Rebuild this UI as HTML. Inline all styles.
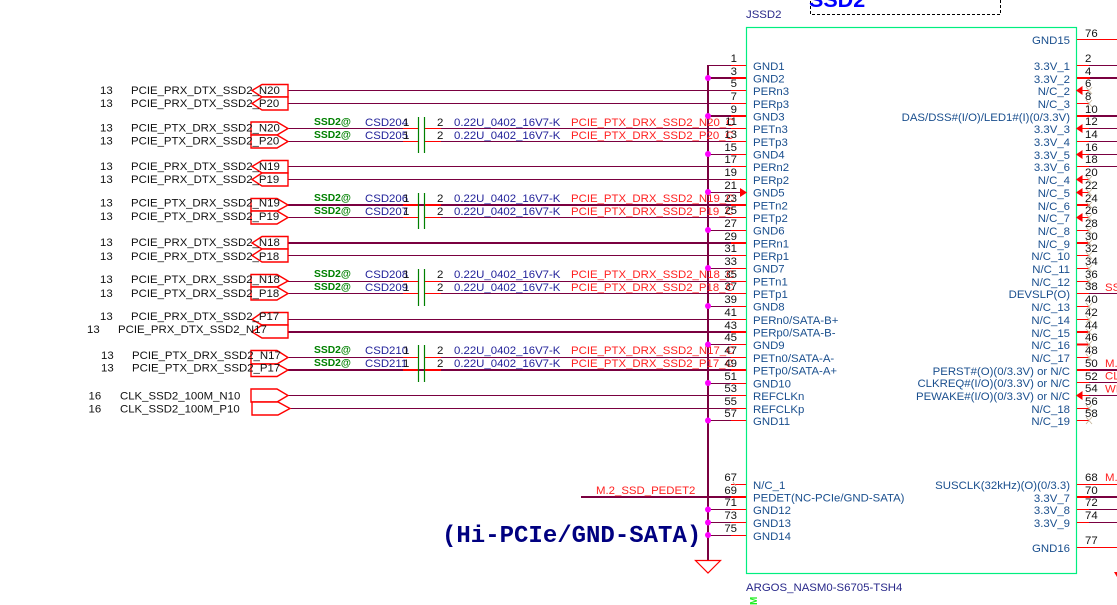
<!DOCTYPE html>
<html><head><meta charset="utf-8"><title>JSSD2</title>
<style>
html,body{margin:0;padding:0;background:#fff;width:1117px;height:605px;overflow:hidden}
svg{display:block;font-family:"Liberation Sans",sans-serif;font-size:11.4px}
.m{stroke:#7a0040;stroke-width:1;fill:none}
.mt{stroke:#7a0040;stroke-width:2;fill:none}
.r{stroke:#ff0000;stroke-width:1;fill:none}
.rt{stroke:#ff0000;stroke-width:2;fill:none}
.g{stroke:#008000;stroke-width:1.2;fill:none}
.x{stroke:#c4b498;stroke-width:.8;fill:none}
.p{stroke:#ff0000;stroke-width:1.4;fill:#fff}
.n text{fill:#111;font-size:11.4px}
.nl text{text-anchor:end}
.l text{fill:#1a4f8e;font-size:11.4px}
.lr text{text-anchor:end}
.s text{fill:#111;font-size:11.4px}
.b text{fill:#008000;font-size:10.3px;font-weight:bold}
.c text{fill:#22229a;font-size:11.4px}
.v text{fill:#111;font-size:11.4px}
.rd text{fill:#ff2020;font-size:11.4px}
</style></head><body>
<svg width="1117" height="605" viewBox="0 0 1117 605" xmlns="http://www.w3.org/2000/svg">
<rect x="810.5" y="-20" width="190" height="34.5" fill="none" stroke="#000" stroke-width="1" stroke-dasharray="3 2"/>
<text x="809" y="7" fill="#0000ff" font-size="21.5" font-weight="bold">SSD2</text>
<text x="746" y="18" fill="#28288a" font-size="11.4">JSSD2</text>
<rect x="746.5" y="27.5" width="330" height="546" fill="none" stroke="#00ee80" stroke-width="1.2"/>
<text x="746" y="591" fill="#28288a" font-size="11.4">ARGOS_NASM0-S6705-TSH4</text>
<text transform="translate(749,605) rotate(-90)" x="0" y="8" fill="#22ee22" font-size="10" font-weight="bold">M</text>

<!-- left maroon nets -->
<path class="m" d="M288 90.5H731M288 103.5H731M288 166.5H731M288 179.5H731M288 255.5H731M288 319.5H731M288 395.5H731M290 408.5H731"/>
<path class="m" d="M288 128.5H403M441 128.5H731M288 141.5H403M441 141.5H731M288 217.5H403M441 217.5H731M288 281.5H403M441 281.5H731M288 293.5H403M441 293.5H731M288 357.5H403M441 357.5H731"/>
<path class="mt" d="M288 243H731M288 332H731M288 205H731M288 370H731M581 497H731"/>
<path class="r" d="M403 128.5H418M424 128.5H441M403 141.5H418M424 141.5H441M403 217.5H418M424 217.5H441M403 281.5H418M424 281.5H441M403 293.5H418M424 293.5H441M403 357.5H418M424 357.5H441"/>
<path class="rt" d="M403 205H418M424 205H441M403 370H418M424 370H441"/>
<!-- bus and stubs -->
<path class="mt" d="M708 65V560M708 78H731M708 116H731"/>
<path class="m" d="M708 65.5H731M708 154.5H731M708 192.5H740M708 230.5H731M708 268.5H731M708 306.5H731M708 344.5H731M708 383.5H731M708 420.5H731M708 509.5H731M708 522.5H731M708 535.5H731"/>
<!-- left pin red ends -->
<path class="r" d="M731 65.5H746M731 90.5H746M731 103.5H746M731 128.5H746M731 141.5H746M731 154.5H746M731 166.5H746M731 179.5H746M731 217.5H746M731 230.5H746M731 255.5H746M731 268.5H746M731 281.5H746M731 293.5H746M731 306.5H746M731 319.5H746M731 344.5H746M731 357.5H746M731 383.5H746M731 395.5H746M731 408.5H746M731 420.5H746M731 509.5H746M731 522.5H746M731 535.5H746M731 484.5H746"/>
<path class="rt" d="M731 78H746M731 116H746M731 205H746M731 243H746M731 332H746M731 370H746M731 497H746"/>
<path d="M740 188L747 192.5L740 197Z" fill="#ff0000"/>
<path class="x" d="M733 482L736 486"/>
<!-- dots -->
<g fill="#ff00ff">
<circle cx="708" cy="78" r="3"/><circle cx="708" cy="116" r="3"/><circle cx="708" cy="154" r="3"/><circle cx="708" cy="192" r="3"/><circle cx="708" cy="230" r="3"/><circle cx="708" cy="268" r="3"/><circle cx="708" cy="306" r="3"/><circle cx="708" cy="344.5" r="3"/><circle cx="708" cy="383" r="3"/><circle cx="708" cy="420.5" r="3"/><circle cx="708" cy="509.5" r="3"/><circle cx="708" cy="522.5" r="3"/><circle cx="708" cy="535" r="3"/>
</g>
<path d="M695.5 560.5H720.5L708 573Z" fill="#fff" stroke="#ff0000" stroke-width="1.2"/>

<!-- caps -->
<path class="g" d="M418.5 117V153M424.5 117V153M418.5 193V229M424.5 193V229M418.5 269V306M424.5 269V306M418.5 345V382M424.5 345V382"/>

<!-- ports -->
<g class="p">
<path class="p" d="M252 90.5L262 84.5H288V97H262Z"/>
<path class="p" d="M252 103.5L262 97H288V110H262Z"/>
<path class="p" d="M251 122H277L288 128.5L277 135H251Z"/>
<path class="p" d="M251 135H277L288 141.5L277 148H251Z"/>
<path class="p" d="M252 166.5L262 160.5H288V173H262Z"/>
<path class="p" d="M252 179.5L262 173H288V186H262Z"/>
<path class="p" d="M251 198.5H277L288 205L277 211H251Z"/>
<path class="p" d="M251 211H277L288 217.5L277 224H251Z"/>
<path class="p" d="M252 243L262 236.5H288V249H262Z"/>
<path class="p" d="M252 255.5L262 249H288V262H262Z"/>
<path class="p" d="M251 274.5H277L288 281L277 287H251Z"/>
<path class="p" d="M251 287H277L288 293.5L277 300H251Z"/>
<path class="p" d="M252 319.5L262 312.5H288V325H262Z"/>
<path class="p" d="M252 332L262 325H288V338H262Z"/>
<path class="p" d="M251 350.5H277L288 357.5L277 364H251Z"/>
<path class="p" d="M251 364H277L288 370L277 376.5H251Z"/>
<path class="p" d="M251 389H277L288 395.5L277 402H251Z"/>
<path class="p" d="M252 402H278L290 408.5L278 415H252Z"/>
</g>

<!-- left texts -->
<g class="s">
<text x="100" y="94">13</text><text x="131" y="94">PCIE_PRX_DTX_SSD2_N20</text>
<text x="100" y="107">13</text><text x="131" y="107">PCIE_PRX_DTX_SSD2_P20</text>
<text x="100" y="131.5">13</text><text x="131" y="131.5">PCIE_PTX_DRX_SSD2_N20</text>
<text x="100" y="144.5">13</text><text x="131" y="144.5">PCIE_PTX_DRX_SSD2_P20</text>
<text x="100" y="170">13</text><text x="131" y="170">PCIE_PRX_DTX_SSD2_N19</text>
<text x="100" y="183">13</text><text x="131" y="183">PCIE_PRX_DTX_SSD2_P19</text>
<text x="100" y="206.5">13</text><text x="131" y="206.5">PCIE_PTX_DRX_SSD2_N19</text>
<text x="100" y="220">13</text><text x="131" y="220">PCIE_PTX_DRX_SSD2_P19</text>
<text x="100" y="246">13</text><text x="131" y="246">PCIE_PRX_DTX_SSD2_N18</text>
<text x="100" y="260">13</text><text x="131" y="260">PCIE_PRX_DTX_SSD2_P18</text>
<text x="100" y="283">13</text><text x="131" y="283">PCIE_PTX_DRX_SSD2_N18</text>
<text x="100" y="297">13</text><text x="131" y="297">PCIE_PTX_DRX_SSD2_P18</text>
<text x="100" y="320">13</text><text x="131" y="320">PCIE_PRX_DTX_SSD2_P17</text>
<text x="87" y="333">13</text><text x="118" y="333">PCIE_PRX_DTX_SSD2_N17</text>
<text x="101" y="359">13</text><text x="132" y="359">PCIE_PTX_DRX_SSD2_N17</text>
<text x="101" y="371.5">13</text><text x="132" y="371.5">PCIE_PTX_DRX_SSD2_P17</text>
<text x="88.5" y="399.5">16</text><text x="120" y="399.5">CLK_SSD2_100M_N10</text>
<text x="88.5" y="412.5">16</text><text x="120" y="412.5">CLK_SSD2_100M_P10</text>
</g>
<g class="b">
<text x="314" y="125">SSD2@</text><text x="314" y="138">SSD2@</text>
<text x="314" y="201">SSD2@</text><text x="314" y="214">SSD2@</text>
<text x="314" y="277">SSD2@</text><text x="314" y="290">SSD2@</text>
<text x="314" y="353">SSD2@</text><text x="314" y="366">SSD2@</text>
</g>
<g class="c">
<text x="365" y="126">CSD204</text><text x="365" y="139">CSD205</text>
<text x="365" y="202">CSD206</text><text x="365" y="215">CSD207</text>
<text x="365" y="278">CSD208</text><text x="365" y="291">CSD209</text>
<text x="365" y="354">CSD210</text><text x="365" y="367">CSD211</text>
<text x="454" y="126">0.22U_0402_16V7-K</text><text x="454" y="139">0.22U_0402_16V7-K</text>
<text x="454" y="202">0.22U_0402_16V7-K</text><text x="454" y="215">0.22U_0402_16V7-K</text>
<text x="454" y="278">0.22U_0402_16V7-K</text><text x="454" y="291">0.22U_0402_16V7-K</text>
<text x="454" y="354">0.22U_0402_16V7-K</text><text x="454" y="367">0.22U_0402_16V7-K</text>
</g>
<g class="v">
<text x="403" y="126">1</text><text x="403" y="139">1</text><text x="403" y="202">1</text><text x="403" y="215">1</text><text x="403" y="278">1</text><text x="403" y="291">1</text><text x="403" y="354">1</text><text x="403" y="367">1</text>
<text x="437" y="126">2</text><text x="437" y="139">2</text><text x="437" y="202">2</text><text x="437" y="215">2</text><text x="437" y="278">2</text><text x="437" y="291">2</text><text x="437" y="354">2</text><text x="437" y="367">2</text>
</g>
<g class="rd">
<text x="571" y="126">PCIE_PTX_DRX_SSD2_N20_C</text><text x="571" y="139">PCIE_PTX_DRX_SSD2_P20_C</text>
<text x="571" y="202">PCIE_PTX_DRX_SSD2_N19_C</text><text x="571" y="215">PCIE_PTX_DRX_SSD2_P19_C</text>
<text x="571" y="278">PCIE_PTX_DRX_SSD2_N18_C</text><text x="571" y="291">PCIE_PTX_DRX_SSD2_P18_C</text>
<text x="571" y="354">PCIE_PTX_DRX_SSD2_N17_C</text><text x="571" y="367">PCIE_PTX_DRX_SSD2_P17_C</text>
<text x="596" y="494">M.2_SSD_PEDET2</text>
<text x="1105" y="291">SSD</text><text x="1105" y="367">M.2</text><text x="1105" y="379.5">CLK</text><text x="1105" y="392.5">WI</text><text x="1105" y="481">M.2</text>
</g>
<text x="442" y="542" fill="#000080" font-family="Liberation Mono, monospace" font-size="24" font-weight="bold">(Hi-PCIe/GND-SATA)</text>

<!-- left pin numbers -->
<g class="n nl">
<text x="737" y="62">1</text><text x="737" y="75">3</text><text x="737" y="87">5</text><text x="737" y="100">7</text><text x="737" y="113">9</text><text x="737" y="125">11</text><text x="737" y="138">13</text><text x="737" y="151">15</text><text x="737" y="163">17</text><text x="737" y="176">19</text><text x="737" y="189">21</text><text x="737" y="202">23</text><text x="737" y="214">25</text><text x="737" y="227">27</text><text x="737" y="240">29</text><text x="737" y="252">31</text><text x="737" y="265">33</text><text x="737" y="278">35</text><text x="737" y="290">37</text><text x="737" y="303">39</text><text x="737" y="316">41</text><text x="737" y="329">43</text><text x="737" y="341">45</text><text x="737" y="354">47</text><text x="737" y="367">49</text><text x="737" y="380">51</text><text x="737" y="392">53</text><text x="737" y="405">55</text><text x="737" y="417">57</text>
<text x="737" y="481">67</text><text x="737" y="494">69</text><text x="737" y="506">71</text><text x="737" y="519">73</text><text x="737" y="532">75</text>
</g>
<!-- left labels -->
<g class="l">
<text x="753" y="70">GND1</text><text x="753" y="82.5">GND2</text><text x="753" y="95">PERn3</text><text x="753" y="108">PERp3</text><text x="753" y="120.5">GND3</text><text x="753" y="133">PETn3</text><text x="753" y="146">PETp3</text><text x="753" y="158.5">GND4</text><text x="753" y="171">PERn2</text><text x="753" y="184">PERp2</text><text x="753" y="196.5">GND5</text><text x="753" y="209.5">PETn2</text><text x="753" y="222">PETp2</text><text x="753" y="234.5">GND6</text><text x="753" y="247.5">PERn1</text><text x="753" y="260">PERp1</text><text x="753" y="272.5">GND7</text><text x="753" y="285.5">PETn1</text><text x="753" y="298">PETp1</text><text x="753" y="310.5">GND8</text><text x="753" y="324">PERn0/SATA-B+</text><text x="753" y="336.5">PERp0/SATA-B-</text><text x="753" y="349">GND9</text><text x="753" y="362">PETn0/SATA-A-</text><text x="753" y="374.5">PETp0/SATA-A+</text><text x="753" y="387.5">GND10</text><text x="753" y="400">REFCLKn</text><text x="753" y="413">REFCLKp</text><text x="753" y="425">GND11</text>
<text x="753" y="489">N/C_1</text><text x="753" y="501.5">PEDET(NC-PCIe/GND-SATA)</text><text x="753" y="514">GND12</text><text x="753" y="527">GND13</text><text x="753" y="540">GND14</text>
</g>

<!-- right pins -->
<path class="r" d="M1077 39.5H1117M1077 65.5H1089M1077 103.5H1089M1077 141.5H1089M1077 166.5H1089M1077 230.5H1089M1077 255.5H1089M1077 268.5H1089M1077 281.5H1089M1077 293.5H1089M1077 306.5H1089M1077 319.5H1089M1077 357.5H1089M1077 382.5H1089M1077 408.5H1089M1077 420.5H1089M1077 484.5H1117M1077 509.5H1089M1077 522.5H1089M1077 547.5H1117M1077 90.5H1089M1077 128.5H1089M1077 154.5H1089M1077 179.5H1089M1077 192.5H1089M1077 217.5H1089M1077 395.5H1089"/>
<path class="rt" d="M1077 78H1090M1077 116H1090M1077 205H1090M1077 243H1090M1077 332H1090M1077 344.5H1090M1077 370H1090M1077 497H1090"/>
<path class="mt" d="M1090 78H1117M1090 116H1117M1090 370H1117M1090 497H1117"/>
<path class="m" d="M1089 65.5H1117M1089 128.5H1117M1089 141.5H1117M1089 154.5H1117M1089 166.5H1117M1089 293.5H1117M1089 382.5H1117M1089 395.5H1117M1089 509.5H1117M1089 522.5H1117"/>
<g fill="#ff0000">
<path d="M1076 90.5L1082.5 86V95Z"/><path d="M1076 128.5L1082.5 124V133Z"/><path d="M1076 154.5L1082.5 150V159Z"/><path d="M1076 179.5L1082.5 175V184Z"/><path d="M1076 192.5L1082.5 188V197Z"/><path d="M1076 217.5L1082.5 213V222Z"/><path d="M1076 395.5L1082.5 391V400Z"/>
<path d="M1114 572H1117V577Z"/>
</g>
<path class="x" d="M1086 87L1092 94M1092 87L1086 94M1086 100L1092 107M1092 100L1086 107M1086 176L1092 183M1092 176L1086 183M1086 189L1092 196M1092 189L1086 196M1086 202L1092 208M1092 202L1086 208M1086 214L1092 221M1092 214L1086 221M1086 227L1092 234M1092 227L1086 234M1086 240L1092 246M1092 240L1086 246M1086 252L1092 259M1092 252L1086 259M1086 265L1092 272M1092 265L1086 272M1086 278L1092 285M1092 278L1086 285M1086 303L1092 310M1092 303L1086 310M1086 316L1092 323M1092 316L1086 323M1086 329L1092 335M1092 329L1086 335M1086 341L1092 348M1092 341L1086 348M1086 354L1092 361M1092 354L1086 361M1086 405L1092 412M1092 405L1086 412M1086 417L1092 424M1092 417L1086 424"/>
<!-- right numbers -->
<g class="n">
<text x="1085" y="37">76</text><text x="1085" y="62">2</text><text x="1085" y="75">4</text><text x="1085" y="87">6</text><text x="1085" y="100">8</text><text x="1085" y="113">10</text><text x="1085" y="125">12</text><text x="1085" y="138">14</text><text x="1085" y="151">16</text><text x="1085" y="163">18</text><text x="1085" y="176">20</text><text x="1085" y="189">22</text><text x="1085" y="202">24</text><text x="1085" y="214">26</text><text x="1085" y="227">28</text><text x="1085" y="240">30</text><text x="1085" y="252">32</text><text x="1085" y="265">34</text><text x="1085" y="278">36</text><text x="1085" y="290">38</text><text x="1085" y="303">40</text><text x="1085" y="316">42</text><text x="1085" y="329">44</text><text x="1085" y="341">46</text><text x="1085" y="354">48</text><text x="1085" y="367">50</text><text x="1085" y="380">52</text><text x="1085" y="392">54</text><text x="1085" y="405">56</text><text x="1085" y="417">58</text>
<text x="1085" y="481">68</text><text x="1085" y="494">70</text><text x="1085" y="506">72</text><text x="1085" y="519">74</text><text x="1085" y="544">77</text>
</g>
<!-- right labels -->
<g class="l lr">
<text x="1070" y="44">GND15</text><text x="1070" y="70">3.3V_1</text><text x="1070" y="83">3.3V_2</text><text x="1070" y="95">N/C_2</text><text x="1070" y="108">N/C_3</text><text x="1070" y="121">DAS/DSS#(I/O)/LED1#(I)(0/3.3V)</text><text x="1070" y="133">3.3V_3</text><text x="1070" y="146">3.3V_4</text><text x="1070" y="159">3.3V_5</text><text x="1070" y="171">3.3V_6</text><text x="1070" y="184">N/C_4</text><text x="1070" y="197">N/C_5</text><text x="1070" y="210">N/C_6</text><text x="1070" y="222">N/C_7</text><text x="1070" y="235">N/C_8</text><text x="1070" y="248">N/C_9</text><text x="1070" y="260">N/C_10</text><text x="1070" y="273">N/C_11</text><text x="1070" y="286">N/C_12</text><text x="1070" y="298">DEVSLP(O)</text><text x="1070" y="311">N/C_13</text><text x="1070" y="324">N/C_14</text><text x="1070" y="337">N/C_15</text><text x="1070" y="349">N/C_16</text><text x="1070" y="362">N/C_17</text><text x="1070" y="375">PERST#(O)(0/3.3V) or N/C</text><text x="1070" y="387">CLKREQ#(I/O)(0/3.3V) or N/C</text><text x="1070" y="400">PEWAKE#(I/O)(0/3.3V) or N/C</text><text x="1070" y="413">N/C_18</text><text x="1070" y="425">N/C_19</text>
<text x="1070" y="489">SUSCLK(32kHz)(O)(0/3.3)</text><text x="1070" y="502">3.3V_7</text><text x="1070" y="514">3.3V_8</text><text x="1070" y="527">3.3V_9</text><text x="1070" y="552">GND16</text>
</g>
</svg>
</body></html>
